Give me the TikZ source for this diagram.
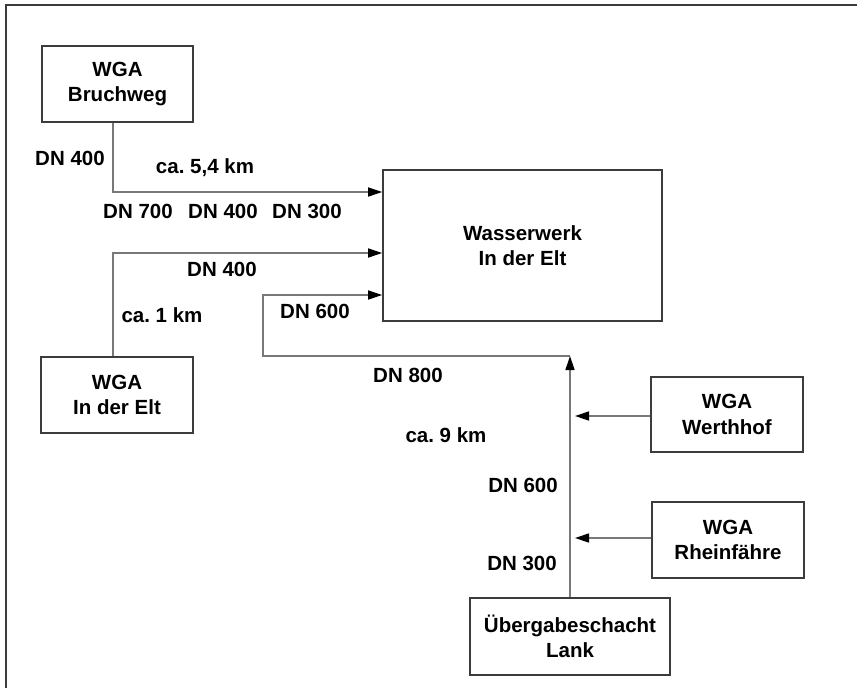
\documentclass[tikz,border=0pt]{standalone}
\usepackage{fontspec}
\setmainfont{Liberation Sans}
\frenchspacing
\usetikzlibrary{arrows.meta}
\definecolor{pipegray}{RGB}{120,120,120}
\definecolor{boxgray}{RGB}{60,60,60}

\begin{document}
\begin{tikzpicture}[x=1pt, y=-1pt,
    box/.style={draw=boxgray, line width=1.6pt, align=center, inner sep=0pt,
      font=\bfseries\fontsize{20.5}{25.5}\selectfont},
    lbl/.style={font=\bfseries\fontsize{20.5}{24}\selectfont, inner sep=0pt},
    pipe/.style={draw=pipegray, line width=1.4pt},
    flow/.style={pipe, -{Triangle[length=14pt, width=9pt, color=black]}}]
  \useasboundingbox (0,0) rectangle (857,688);
  % frame (cut off right and bottom)
  \draw[boxgray, line width=2.2pt] (6,688) -- (6,5) -- (857,5);

  % plants
  \node[box, minimum width=151pt, minimum height=76pt] (bruch) at (117.5,84) {WGA\\Bruchweg};
  \node[box, minimum width=152pt, minimum height=76pt] (elt) at (117,395) {WGA\\In der Elt};
  \node[box, minimum width=279pt, minimum height=151pt] (werk) at (522.5,245.5) {Wasserwerk\\In der Elt};
  \node[box, minimum width=152pt, minimum height=75pt] (werth) at (727,414.5) {WGA\\Werthhof};
  \node[box, minimum width=152pt, minimum height=76pt] (rhein) at (728,540) {WGA\\Rheinfähre};
  \node[box, minimum width=200pt, minimum height=77pt] (lank) at (570,636.5) {Übergabeschacht\\Lank};

  \coordinate (knot) at (570,356);
  \coordinate (bend) at (263,356);

  % pipes
  \draw[flow] ([xshift=-4.5pt]bruch.south) |- ([yshift=53.5pt]werk.west);
  \draw[flow] ([xshift=-4pt]elt.north) |- ([yshift=-7.5pt]werk.west);
  \draw[flow] (knot) -- (bend) |- ([yshift=-49.5pt]werk.west);
  \draw[flow] (lank.north) -- (knot);
  \draw[flow, shorten >=5pt] ([yshift=-1.5pt]werth.west) -- ([yshift=-1.5pt]werth.west -| knot);
  \draw[flow, shorten >=5pt] ([yshift=2pt]rhein.west) -- ([yshift=2pt]rhein.west -| knot);

  % pipe data
  \node[lbl] (l1) at (70,158) {DN 400};
  \node[lbl] (l2) at (205,168) {ca. 5,4 km};
  \node[lbl] (l3) at (138,211) {DN 700};
  \node[lbl] (l4) at (223,211) {DN 400};
  \node[lbl] (l5) at (307,211) {DN 300};
  \node[lbl] (l6) at (222,269) {DN 400};
  \node[lbl] (l7) at (162,315) {ca. 1 km};
  \node[lbl] (l8) at (315,311) {DN 600};
  \node[lbl] (l9) at (408,375) {DN 800};
  \node[lbl] (l10) at (446,435) {ca. 9 km};
  \node[lbl] (l11) at (523,485) {DN 600};
  \node[lbl] (l12) at (522,563) {DN 300};
\end{tikzpicture}
\end{document}
